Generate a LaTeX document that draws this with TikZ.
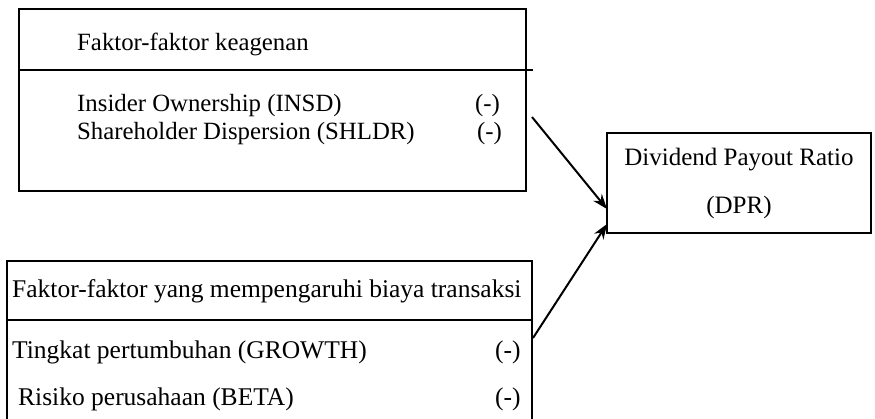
\documentclass[tikz,border=0pt]{standalone}
\usepackage{fontspec}
\setmainfont{Liberation Serif}
\newfontfamily\tnr{Liberation Serif}
\usetikzlibrary{arrows.meta}
\begin{document}
\begin{tikzpicture}[x=1pt,y=-1pt,
  box/.style={draw,line width=2pt,inner sep=0pt,outer sep=0pt,anchor=north west},
  txt/.style={anchor=base west,inner sep=0pt,font=\tnr\fontsize{25.5}{30}\selectfont},
  ttxt/.style={anchor=base west,inner sep=0pt,font=\tnr\fontsize{24.8}{30}\selectfont},
  ctxt/.style={anchor=base,inner sep=0pt,font=\tnr\fontsize{25}{30}\selectfont},
  rule/.style={line width=2pt},
  arr/.style={line width=2pt,-{Stealth[length=15pt,width=11pt]}}]
\useasboundingbox (0,0) rectangle (875,418);
\clip (0,0) rectangle (875,418);
% top box
\node[box, minimum width=507pt, minimum height=182pt] (top) at (19,9) {};
\coordinate (topdivL) at (19,70);
\coordinate (topdivR) at (533,70);
\draw[rule] (topdivL) -- (topdivR);
\node[ttxt] (t0) at (77,50) {Faktor-faktor keagenan};
\node[ttxt] (t1) at (77,111) {Insider Ownership (INSD)};
\node[ttxt] (t1s) at (475,111) {(-)};
\node[ttxt] (t2) at (77,139) {Shareholder Dispersion (SHLDR)};
\node[ttxt] (t2s) at (477,139) {(-)};
% bottom box
\node[box, minimum width=525pt, minimum height=200pt] (bot) at (7,261) {};
\coordinate (botdivL) at (7,320);
\coordinate (botdivR) at (532,320);
\draw[rule] (botdivL) -- (botdivR);
\node[txt] (b0) at (12,297) {Faktor-faktor yang mempengaruhi biaya transaksi};
\node[txt] (b1) at (12,358) {Tingkat pertumbuhan (GROWTH)};
\node[txt] (b1s) at (495,358) {(-)};
\node[txt] (b2) at (18,405) {Risiko perusahaan (BETA)};
\node[txt] (b2s) at (495,405) {(-)};
% DPR box
\node[box, minimum width=264pt, minimum height=100pt] (dpr) at (607,133) {};
\node[ctxt] (d1) at (739,165) {Dividend Payout Ratio};
\node[ctxt] (d2) at (739,213) {(DPR)};
% arrows
\coordinate (a1s) at (532,117);
\coordinate (a1e) at (607,209);
\coordinate (a2s) at (533,338);
\coordinate (a2e) at (607,224);
\draw[arr] (a1s) -- (a1e);
\draw[arr] (a2s) -- (a2e);
\end{tikzpicture}
\end{document}
